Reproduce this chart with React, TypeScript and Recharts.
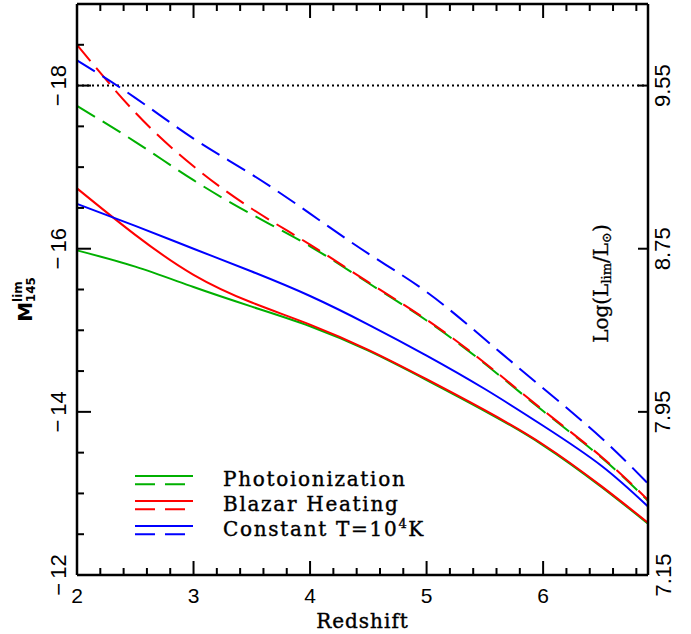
import { LineChart, Line, XAxis, YAxis, ReferenceLine } from "recharts";

// redshift grid and limiting magnitudes
const redshift = [2, 2.5, 3, 3.5, 4, 4.5, 5, 5.5, 6, 6.5, 6.9];
const photoSolid = [-15.98, -15.78, -15.53, -15.29, -15.05, -14.75, -14.39, -14.01, -13.59, -13.08, -12.63];
const photoDashed = [-17.75, -17.31, -16.84, -16.42, -16.03, -15.58, -15.12, -14.59, -14.01, -13.44, -12.91];
const blazarSolid = [-16.74, -16.17, -15.68, -15.34, -15.07, -14.76, -14.4, -14.02, -13.6, -13.09, -12.64];
const blazarDashed = [-18.5, -17.67, -17.01, -16.49, -16.05, -15.59, -15.13, -14.6, -14.02, -13.45, -12.92];
const constSolid = [-16.55, -16.28, -16.0, -15.72, -15.42, -15.07, -14.69, -14.28, -13.83, -13.34, -12.84];
const constDashed = [-18.31, -17.85, -17.35, -16.91, -16.43, -15.94, -15.47, -14.89, -14.29, -13.68, -13.12];

const X_MIN = 2;
const X_MAX = 6.9;
const Y_MIN = -19;
const Y_MAX = -12;

const xTicks = [2.2, 2.4, 2.6, 2.8, 3, 3.2, 3.4, 3.6, 3.8, 4, 4.2, 4.4, 4.6, 4.8, 5, 5.2, 5.4, 5.6, 5.8, 6, 6.2, 6.4, 6.6, 6.8];
const xLabels = [2, 3, 4, 5, 6];
const yTicks = [-18.5, -18, -17.5, -17, -16.5, -16, -15.5, -15, -14.5, -14, -13.5, -13, -12.5];
const yLabels = [-18, -16, -14, -12];
const rightTicks = [-18, -16, -14, -12];
const rightTickLabels = ["9.55", "8.75", "7.95", "7.15"];

const legendLabels = ["Photoionization", "Blazar Heating", "Constant T=10^4K"];
const colors = ["#00b000", "#ff0000", "#0000ff"];
const DASH = "21 9";

const rows = redshift.map((z, i) => ({
  z,
  photoSolid: photoSolid[i],
  photoDashed: photoDashed[i],
  blazarSolid: blazarSolid[i],
  blazarDashed: blazarDashed[i],
  constSolid: constSolid[i],
  constDashed: constDashed[i],
}));

// plot box: 571 px square, top-left corner at (77, 4)
const PLOT = 571;
const LEFT = 77;
const TOP = 4;
const px = (z: number) => LEFT + ((z - X_MIN) / (X_MAX - X_MIN)) * PLOT;
const py = (m: number) => TOP + ((m - Y_MIN) / (Y_MAX - Y_MIN)) * PLOT;

const TICK_FONT = "'Liberation Sans', Arial, sans-serif";
const SERIF = "'DejaVu Serif', serif";

const isInt = (v: number) => Math.abs(v - Math.round(v)) < 1e-6;

function BottomTick(props: any) {
  const { x, y, payload } = props;
  return (
    <text x={x} y={y + 20} textAnchor="middle" dominantBaseline="central" fontSize={21} fontFamily={TICK_FONT} fill="#000">
      {payload.value}
    </text>
  );
}

function LeftTick(props: any) {
  const { x, y, payload } = props;
  const cx = x - 19;
  return (
    <text
      x={cx}
      y={y}
      transform={`rotate(-90 ${cx} ${y})`}
      textAnchor="middle"
      dominantBaseline="central"
      fontSize={22}
      fontFamily={TICK_FONT}
      fill="#000"
    >
      {"\u2212"}
      <tspan dx={4}>{String(Math.abs(payload.value))}</tspan>
    </text>
  );
}

function RightTick(props: any) {
  const { x, y, payload } = props;
  const idx = rightTicks.indexOf(payload.value);
  const cx = x + 15;
  return (
    <text
      x={cx}
      y={y}
      transform={`rotate(-90 ${cx} ${y})`}
      textAnchor="middle"
      dominantBaseline="central"
      fontSize={22}
      fontFamily={TICK_FONT}
      fill="#000"
    >
      {rightTickLabels[idx]}
    </text>
  );
}

function LeftTitle(props: any) {
  const vb = props.viewBox;
  const cx = 25;
  const cy = vb.y + vb.height / 2 + 10;
  return (
    <text
      x={cx}
      y={cy}
      transform={`rotate(-90 ${cx} ${cy})`}
      textAnchor="middle"
      dominantBaseline="central"
      fontFamily="'DejaVu Sans', sans-serif"
      fontWeight="bold"
      fill="#000"
    >
      <tspan fontSize={20}>M</tspan>
      <tspan fontSize={12} dy={-7}>lim</tspan>
      <tspan fontSize={12} dx={-21} dy={13}>145</tspan>
    </text>
  );
}

function RightTitle(props: any) {
  const vb = props.viewBox;
  const cx = vb.x - 47;
  const cy = vb.y + vb.height / 2 - 6;
  return (
    <text
      x={cx}
      y={cy}
      transform={`rotate(-90 ${cx} ${cy})`}
      textAnchor="middle"
      dominantBaseline="central"
      fontFamily={SERIF}
      fontSize={20}
      stroke="#000"
      strokeWidth={0.3}
      fill="#000"
    >
      Log(L<tspan fontSize={13} dy={5}>lim</tspan>
      <tspan dy={-5}>/L</tspan>
      <tspan fontSize={13} dy={5}>{"\u2299"}</tspan>
      <tspan dy={-5}>)</tspan>
    </text>
  );
}

function BottomTitle(props: any) {
  const vb = props.viewBox;
  return (
    <text
      x={vb.x + vb.width / 2}
      y={628}
      textAnchor="middle"
      fontFamily={SERIF}
      fontSize={20}
      letterSpacing={1}
      stroke="#000"
      strokeWidth={0.4}
      fill="#000"
    >
      Redshift
    </text>
  );
}

// inward PGPLOT-style tick marks on all four sides of the frame
function FrameTicks() {
  const ts = { stroke: "#000", strokeWidth: 2 };
  return (
    <svg width={691} height={634} style={{ position: "absolute", left: 0, top: 0, pointerEvents: "none" }}>
      {xTicks.map((v) => {
        const x = px(v);
        const len = isInt(v) ? 14 : 7;
        return (
          <g key={`x${v}`}>
            <line x1={x} x2={x} y1={TOP + PLOT} y2={TOP + PLOT - len} {...ts} />
            <line x1={x} x2={x} y1={TOP} y2={TOP + len} {...ts} />
          </g>
        );
      })}
      {yTicks.map((v) => {
        const y = py(v);
        const len = isInt(v / 2) ? 14 : 7;
        return <line key={`y${v}`} x1={LEFT} x2={LEFT + len} y1={y} y2={y} {...ts} />;
      })}
      {rightTicks.map((v) => {
        const y = py(v);
        return <line key={`r${v}`} x1={LEFT + PLOT} x2={LEFT + PLOT - 10} y1={y} y2={y} {...ts} />;
      })}
    </svg>
  );
}

function LegendBox() {
  return (
    <svg width={320} height={80} style={{ position: "absolute", left: 130, top: 466 }}>
      {legendLabels.map((label, i) => {
        const ly = 10 + i * 25;
        const [head, tail] = label.split("^");
        return (
          <g key={label}>
            <line x1={5} x2={63} y1={ly} y2={ly} stroke={colors[i]} strokeWidth={2} />
            <line x1={5} x2={57} y1={ly + 8.3} y2={ly + 8.3} stroke={colors[i]} strokeWidth={2} strokeDasharray="20 10" />
            <text
              x={93}
              y={ly + 9.5}
              fontFamily={SERIF}
              fontSize={20}
              letterSpacing={1.7}
              stroke="#000"
              strokeWidth={0.4}
              fill="#000"
            >
              {head}
              {tail && (
                <>
                  <tspan fontSize={13} dy={-8}>{tail[0]}</tspan>
                  <tspan dy={8}>{tail.slice(1)}</tspan>
                </>
              )}
            </text>
          </g>
        );
      })}
    </svg>
  );
}

export default function App() {
  const axisLine = { stroke: "#000", strokeWidth: 2.5 };
  return (
    <div style={{ position: "absolute", left: 0, top: 0, width: 691, height: 634 }}>
      <LineChart width={691} height={634} data={rows} margin={{ top: TOP, right: 0, bottom: 0, left: 0 }}>
        <XAxis
          xAxisId="bottom"
          dataKey="z"
          type="number"
          domain={[X_MIN, X_MAX]}
          ticks={xLabels}
          interval={0}
          height={59}
          tickSize={0}
          tickMargin={0}
          tickLine={false}
          axisLine={axisLine}
          tick={BottomTick}
          label={BottomTitle}
        />
        <YAxis
          yAxisId="left"
          type="number"
          domain={[Y_MIN, Y_MAX]}
          reversed
          ticks={yLabels}
          interval={0}
          width={LEFT}
          tickSize={0}
          tickMargin={0}
          tickLine={false}
          axisLine={axisLine}
          tick={LeftTick}
          label={LeftTitle}
        />
        <YAxis
          yAxisId="right"
          orientation="right"
          type="number"
          domain={[Y_MIN, Y_MAX]}
          reversed
          ticks={rightTicks}
          interval={0}
          width={43}
          tickSize={0}
          tickMargin={0}
          tickLine={false}
          axisLine={axisLine}
          tick={RightTick}
          label={RightTitle}
        />
        <ReferenceLine xAxisId="bottom" yAxisId="left" y={Y_MIN} stroke="#000" strokeWidth={2.5} ifOverflow="visible" />
        <ReferenceLine xAxisId="bottom" yAxisId="left" y={-18} stroke="#000" strokeWidth={2} strokeDasharray="2 3" />
        <Line xAxisId="bottom" yAxisId="left" type="natural" dataKey="photoSolid" stroke={colors[0]} strokeWidth={2} dot={false} isAnimationActive={false} />
        <Line xAxisId="bottom" yAxisId="left" type="natural" dataKey="photoDashed" stroke={colors[0]} strokeWidth={2} strokeDasharray={DASH} dot={false} isAnimationActive={false} />
        <Line xAxisId="bottom" yAxisId="left" type="natural" dataKey="blazarSolid" stroke={colors[1]} strokeWidth={2} dot={false} isAnimationActive={false} />
        <Line xAxisId="bottom" yAxisId="left" type="natural" dataKey="blazarDashed" stroke={colors[1]} strokeWidth={2} strokeDasharray={DASH} dot={false} isAnimationActive={false} />
        <Line xAxisId="bottom" yAxisId="right" type="natural" dataKey="constSolid" stroke={colors[2]} strokeWidth={2} dot={false} isAnimationActive={false} />
        <Line xAxisId="bottom" yAxisId="right" type="natural" dataKey="constDashed" stroke={colors[2]} strokeWidth={2} strokeDasharray={DASH} dot={false} isAnimationActive={false} />
      </LineChart>
      <FrameTicks />
      <LegendBox />
    </div>
  );
}
